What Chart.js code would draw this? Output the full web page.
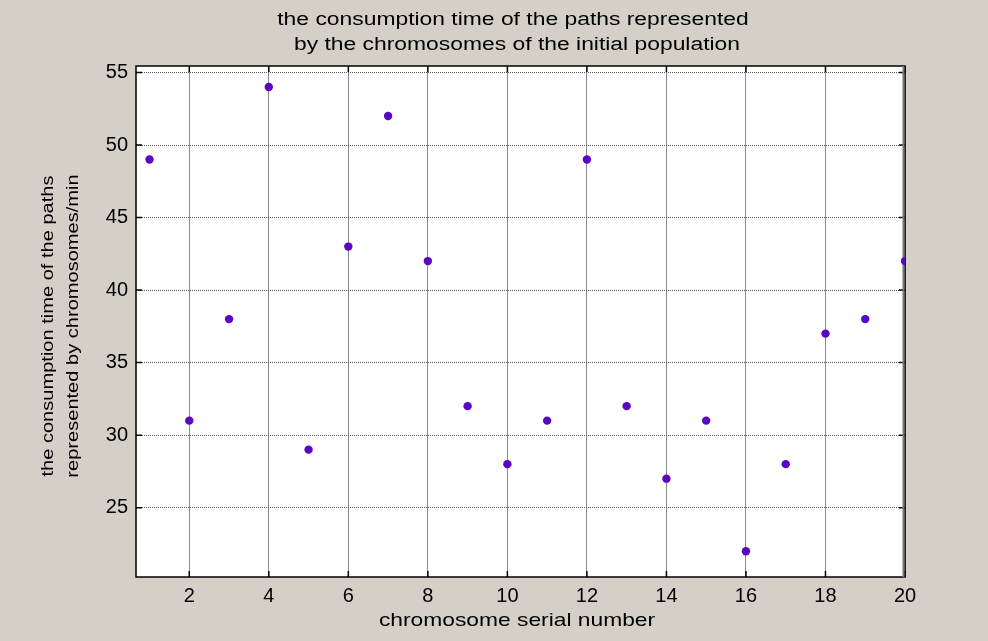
<!DOCTYPE html>
<html><head><meta charset="utf-8">
<script src="https://cdn.jsdelivr.net/npm/chart.js@4.4.0/dist/chart.umd.min.js"></script>
<style>html,body{margin:0;padding:0;background:#d4d0c8;}#wrap{width:988px;height:641px;}</style>
</head><body><div id="wrap"><canvas id="c" width="988" height="641"></canvas></div>
<script>
const chromosomes = [1,2,3,4,5,6,7,8,9,10,11,12,13,14,15,16,17,18,19,20];
const timesMin = [49,31,38,54,29,43,52,42,32,28,31,49,32,27,31,22,28,37,38,42];
const xTicks = [2,4,6,8,10,12,14,16,18,20];
const yTicks = [25,30,35,40,45,50,55];
const titleLines = ['the consumption time of the paths represented','by the chromosomes of the initial population'];
const xTitle = 'chromosome serial number';
const yTitle = ['the consumption time of the paths','represented by chromosomes/min'];

const AREA = {left:136, top:66, right:905, bottom:577};
const FONT = 'Arial, "Liberation Sans", sans-serif';

function stretchedText(ctx, text, x, y, sx){
  ctx.save();
  ctx.translate(x, y);
  ctx.scale(sx, 1);
  ctx.fillText(text, 0, 0);
  ctx.restore();
}

const framePlugin = {
  id:'frame',
  beforeDraw(chart){
    const ctx = chart.ctx;
    ctx.save();
    ctx.fillStyle = '#d4d0c8';
    ctx.fillRect(0,0,chart.width,chart.height);
    const a = chart.chartArea;
    ctx.fillStyle = '#ffffff';
    ctx.fillRect(a.left,a.top,a.right-a.left,a.bottom-a.top);
    ctx.restore();
  },
  beforeDatasetsDraw(chart){
    const ctx = chart.ctx, a = chart.chartArea;
    const xs = chart.scales.x, ys = chart.scales.y;
    ctx.save();
    ctx.strokeStyle = '#000'; ctx.lineWidth = 1.5;
    ctx.strokeRect(a.left, a.top, a.right-a.left, a.bottom-a.top);
    ctx.beginPath();
    xTicks.forEach(v=>{const px = xs.getPixelForValue(v);
      ctx.moveTo(px,a.bottom); ctx.lineTo(px,a.bottom-6);
      ctx.moveTo(px,a.top); ctx.lineTo(px,a.top+6);});
    yTicks.forEach(v=>{const py = ys.getPixelForValue(v);
      ctx.moveTo(a.left,py); ctx.lineTo(a.left+6,py);
      ctx.moveTo(a.right,py); ctx.lineTo(a.right-6,py);});
    ctx.stroke();
    ctx.strokeStyle = '#777'; ctx.lineWidth = 2;
    ctx.beginPath(); ctx.moveTo(a.right-1.5, a.top); ctx.lineTo(a.right-1.5, a.bottom); ctx.stroke();
    // titles
    ctx.fillStyle = '#000';
    ctx.font = '18px ' + FONT;
    ctx.textAlign = 'center'; ctx.textBaseline = 'middle';
    stretchedText(ctx, titleLines[0], 513, 20, 1.27);
    stretchedText(ctx, titleLines[1], 517, 45, 1.27);
    ctx.font = '19px ' + FONT;
    stretchedText(ctx, xTitle, 517, 621, 1.2);
    // y axis title, rotated
    ctx.font = '17px ' + FONT;
    [48, 73].forEach((cx, i)=>{
      ctx.save();
      ctx.translate(cx, 326);
      ctx.rotate(-Math.PI/2);
      ctx.scale(1.18, 1);
      ctx.fillText(yTitle[i], 0, 0);
      ctx.restore();
    });
    ctx.restore();
  }
};

new Chart(document.getElementById('c'), {
  type:'scatter',
  data:{datasets:[{
    data: chromosomes.map((x,i)=>({x:x, y:timesMin[i]})),
    pointRadius:4.2, pointHoverRadius:4.2,
    backgroundColor:'#5a06c4', borderColor:'#5a06c4', borderWidth:0,
    pointStyle:'circle'
  }]},
  options:{
    responsive:false, animation:false, devicePixelRatio:1,
    layout:{padding:{left:36, right:988-AREA.right, top:AREA.top, bottom:0}},
    plugins:{legend:{display:false}, tooltip:{enabled:false}, title:{display:false}},
    scales:{
      x:{type:'linear', min:0.66, max:20,
        afterBuildTicks(s){ s.ticks = xTicks.map(v=>({value:v})); },
        afterFit(s){ s.height = 641 - AREA.bottom; },
        ticks:{color:'#000', font:{family:FONT, size:20}, padding:7, maxRotation:0, autoSkip:false},
        grid:{color:'#8a8a8a', lineWidth:1, drawTicks:false},
        border:{display:false}
      },
      y:{type:'linear', min:20.22, max:55.45,
        afterBuildTicks(s){ s.ticks = yTicks.map(v=>({value:v})); },
        afterFit(s){ s.width = AREA.left - 36; },
        ticks:{color:'#000', font:{family:FONT, size:20}, padding:8, autoSkip:false},
        grid:{color:'#555', lineWidth:1, drawTicks:false},
        border:{display:false, dash:[1,1]}
      }
    }
  },
  plugins:[framePlugin]
});
</script></body></html>
